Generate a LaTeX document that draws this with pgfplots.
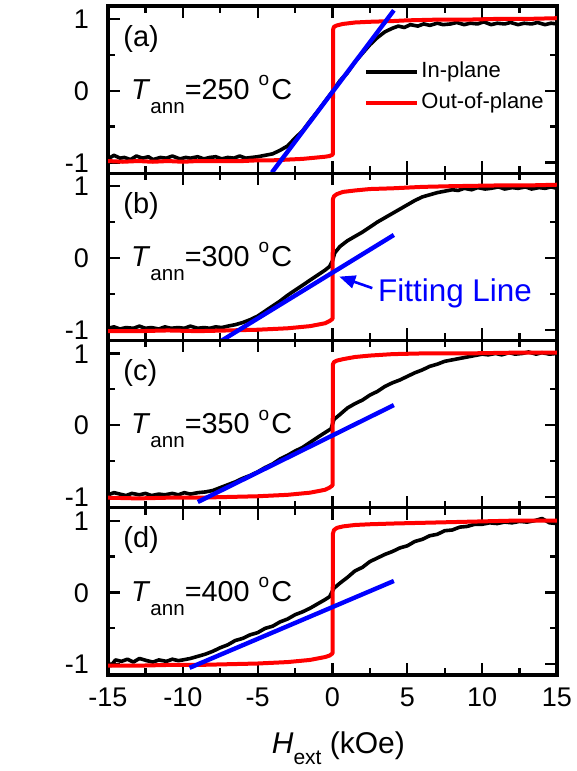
\documentclass[border=0pt]{standalone}
\usepackage{fontspec}
\setmainfont{Liberation Sans}
\usepackage{pgfplots}
\pgfplotsset{compat=1.18}
\usetikzlibrary{arrows.meta}

\pgfplotsset{
  panel/.style={
    scale only axis, width=224.5pt, height=83.625pt,
    anchor=south west,
    xmin=-15, xmax=15, ymin=-1.15, ymax=1.18,
    xtick={-15,-10,...,15}, minor xtick={-12.5,-7.5,...,12.5},
    ytick={-1,0,1}, minor ytick={-0.5,0.5},
    tick align=inside,
    major tick length=6pt, minor tick length=3.5pt,
    every tick/.style={black, line width=1.1pt},
    axis line style={line width=1.6pt},
    tick label style={font=\fontsize{13.5}{14}\selectfont},
    /pgf/number format/assume math mode=true,
    xticklabel style={yshift=-3pt},
    yticklabel style={xshift=-6pt, inner ysep=0pt, text height=9.6pt, text depth=0pt},
  },
  inplane/.style={black, line width=1.8pt, line join=round},
  outplane/.style={red, line width=2pt, line join=round},
  fitline/.style={blue, line width=2.2pt, forget plot},
}
\newcommand{\panellabel}[1]{\node[anchor=base west, inner sep=0pt, font=\fontsize{14.5}{16}\selectfont] at (axis cs:-14.0,0.62) {(#1)};}
\newcommand{\tann}[1]{\node[anchor=base west, inner sep=0pt, font=\fontsize{14.4}{16}\selectfont] at (axis cs:-13.48,-0.12)
  {\textit{T}\raisebox{-7pt}{\fontsize{10.3}{11}\selectfont ann}=#1\hspace{4.5pt}\raisebox{6.8pt}{\fontsize{9.5}{10}\selectfont o}\hspace{1pt}C};}

\begin{document}
\begin{tikzpicture}
\useasboundingbox (0,0) rectangle (288.5pt,385.5pt);

% (a) 250 C
\begin{axis}[panel, at={(54pt,298.875pt)}, xticklabels={},
  legend style={at={(axis cs:2.08,0.045)}, anchor=west, draw=none, fill=none,
    inner sep=0pt, font=\fontsize{11}{12}\selectfont, row sep=5.15pt,
    nodes={inner xsep=1.2pt, inner ysep=0pt, text height=8pt, text depth=2.5pt}},
  legend cell align=left,
  legend image code/.code={\draw[#1] (0pt,0pt) -- (25.5pt,0pt);},
]
\addplot[inplane] coordinates {
(-15,-0.95) (-14.6,-0.90) (-14.2,-0.94) (-13.9,-0.93) (-13.5,-0.96) (-13.1,-0.91) (-12.7,-0.94)
(-12.3,-0.92) (-12,-0.96) (-11.5,-0.93) (-11.1,-0.94) (-10.7,-0.91) (-10.2,-0.95) (-9.8,-0.93)
(-9.5,-0.94) (-9,-0.92) (-8.6,-0.95) (-8.2,-0.93) (-7.8,-0.92) (-7.4,-0.95) (-7,-0.93)
(-6.6,-0.94) (-6.2,-0.91) (-5.8,-0.94) (-5.4,-0.93) (-5,-0.92) (-4.5,-0.90) (-4,-0.88)
(-3.5,-0.83) (-3,-0.77) (-2.5,-0.66) (-2,-0.56) (-1.5,-0.42) (-1,-0.29) (-0.5,-0.15)
(0,-0.01) (0.5,0.14) (1,0.25) (1.5,0.40) (2,0.52) (2.5,0.64) (3,0.74) (3.5,0.82)
(4,0.87) (4.4,0.90) (4.8,0.88) (5.2,0.92) (5.7,0.90) (6.1,0.93) (6.5,0.91) (7,0.94)
(7.4,0.92) (7.9,0.93) (8.3,0.95) (8.8,0.92) (9.2,0.94) (9.7,0.93) (10.1,0.96) (10.6,0.92)
(11,0.94) (11.5,0.93) (11.9,0.95) (12.4,0.92) (12.8,0.94) (13.3,0.93) (13.7,0.95) (14.2,0.92)
(14.6,0.94) (15,0.93)
};
\addlegendentry{In-plane}
\addplot[outplane] coordinates {
(-15,-0.98) (-14,-0.99) (-13,-0.98) (-12,-0.99) (-11,-0.98) (-10,-0.99) (-9,-0.98)
(-8,-0.98) (-7,-0.98) (-6,-0.98) (-5,-0.97) (-4,-0.97) (-3,-0.96) (-2,-0.95)
(-1.5,-0.94) (-1,-0.93) (-0.5,-0.92) (-0.2,-0.91) (0.02,-0.89) (0.05,0.86) (0.1,0.89)
(0.3,0.91) (0.7,0.93) (1.5,0.95) (2.5,0.96) (4,0.97) (5,0.98) (7,0.99) (9,0.99)
(11,1.0) (13,1.0) (15,1.01)
};
\addlegendentry{Out-of-plane}
\addplot[fitline] coordinates {(-4.05,-1.14) (4.1,1.12)};
\panellabel{a}
\tann{250}
\end{axis}

% (b) 300 C
\begin{axis}[panel, at={(54pt,215.25pt)}, xticklabels={}]
\addplot[inplane] coordinates {
(-15,-0.98) (-14.6,-0.96) (-14.2,-0.99) (-13.8,-0.97) (-13.3,-0.98) (-12.9,-0.95) (-12.5,-0.98)
(-12.1,-0.97) (-11.6,-0.99) (-11.2,-0.96) (-10.8,-0.98) (-10.3,-0.97) (-9.9,-0.98) (-9.5,-0.95)
(-9,-0.98) (-8.6,-0.97) (-8.2,-0.98) (-7.8,-0.96) (-7.4,-0.97) (-7,-0.95) (-6.5,-0.93)
(-6,-0.90) (-5.5,-0.86) (-5,-0.81) (-4.5,-0.74) (-4,-0.67) (-3.5,-0.60) (-3,-0.52)
(-2.5,-0.45) (-2,-0.38) (-1.5,-0.31) (-1,-0.24) (-0.5,-0.17) (-0.2,-0.12) (0,-0.04)
(0.15,0.07) (0.5,0.16) (1,0.24) (1.5,0.30) (2,0.36) (2.5,0.43) (3,0.50) (3.5,0.56)
(4,0.62) (4.5,0.68) (5,0.74) (5.5,0.80) (6,0.85) (6.5,0.88) (7,0.91) (7.5,0.93)
(8,0.95) (8.4,0.94) (8.8,0.97) (9.3,0.95) (9.7,0.98) (10.2,0.96) (10.6,0.97) (11.1,0.99)
(11.5,0.96) (12,0.98) (12.4,0.97) (12.9,0.99) (13.3,0.96) (13.8,0.98) (14.2,0.97) (14.6,0.99)
(15,0.97)
};
\addplot[outplane] coordinates {
(-15,-1.02) (-13,-1.02) (-11,-1.01) (-9,-1.02) (-7,-1.01) (-5,-1.0) (-4,-0.99)
(-3,-0.98) (-2,-0.96) (-1.5,-0.95) (-1,-0.93) (-0.5,-0.91) (-0.2,-0.88) (0,-0.85)
(0.03,0.82) (0.1,0.86) (0.3,0.89) (0.7,0.92) (1.5,0.94) (2.5,0.96) (4,0.97) (6,0.99)
(8,1.0) (11,1.01) (13,1.01) (15,1.02)
};
\addplot[fitline] coordinates {(-7.55,-1.17) (4.1,0.32)};
\panellabel{b}
\tann{300}
\draw[blue, line width=1.3pt, -{Triangle[length=8pt,width=6.5pt]}]
  (axis cs:2.66,-0.42) -- (axis cs:0.455,-0.26);
\node[anchor=base west, inner sep=0pt, blue, font=\fontsize{15.7}{17}\selectfont]
  at (axis cs:3.03,-0.61) {Fitting Line};
\node[rotate=90, anchor=base, inner sep=0pt, font=\fontsize{15}{16}\selectfont]
  at (axis description cs:-0.158,0.048) {\textit{M}/\textit{M}\raisebox{-5pt}{\fontsize{10.5}{11}\selectfont s}};
\end{axis}

% (c) 350 C
\begin{axis}[panel, at={(54pt,131.625pt)}, xticklabels={}]
\addplot[inplane] coordinates {
(-15,-0.97) (-14.6,-0.94) (-14.2,-0.96) (-13.8,-0.98) (-13.4,-0.95) (-12.9,-0.97) (-12.5,-0.95)
(-12.1,-0.98) (-11.6,-0.96) (-11.2,-0.97) (-10.7,-0.95) (-10.3,-0.97) (-9.9,-0.94) (-9.5,-0.96)
(-9,-0.94) (-8.5,-0.93) (-8,-0.91) (-7.5,-0.87) (-7,-0.83) (-6.5,-0.79) (-6,-0.74)
(-5.5,-0.70) (-5,-0.65) (-4.5,-0.59) (-4,-0.54) (-3.5,-0.47) (-3,-0.42) (-2.5,-0.36)
(-2,-0.31) (-1.5,-0.24) (-1,-0.17) (-0.7,-0.13) (-0.4,-0.09) (-0.1,-0.05) (0.1,0.08)
(0.5,0.15) (1,0.24) (1.5,0.30) (2,0.35) (2.5,0.42) (3,0.47) (3.5,0.54) (4,0.59)
(4.5,0.63) (5,0.68) (5.5,0.73) (6,0.77) (6.5,0.82) (7,0.85) (7.5,0.89) (8,0.91)
(8.5,0.93) (9,0.95) (9.5,0.97) (10,0.99) (10.4,0.98) (10.9,1.00) (11.3,0.98) (11.8,1.01)
(12.2,0.99) (12.7,1.00) (13.1,1.02) (13.6,0.99) (14,1.01) (14.5,0.99) (15,1.0)
};
\addplot[outplane] coordinates {
(-15,-1.01) (-13,-1.02) (-11,-1.01) (-9,-1.01) (-7,-1.0) (-5,-0.99) (-4,-0.98)
(-3,-0.97) (-2,-0.95) (-1.5,-0.94) (-1,-0.92) (-0.5,-0.9) (-0.2,-0.87) (0,-0.84)
(0.03,0.85) (0.1,0.88) (0.3,0.9) (0.7,0.92) (1.5,0.95) (2.5,0.97) (4,0.99) (6,1.0)
(9,1.0) (12,1.01) (15,1.01)
};
\addplot[fitline] coordinates {(-9.0,-1.07) (4.1,0.28)};
\panellabel{c}
\tann{350}
\end{axis}

% (d) 400 C
\begin{axis}[panel, at={(54pt,48pt)},
  xlabel={\textit{H}\raisebox{-5.3pt}{\fontsize{10.5}{11}\selectfont ext} (kOe)},
  xlabel style={at={(axis description cs:0.513,-0.47)}, anchor=base, inner sep=0pt,
    font=\fontsize{15}{16}\selectfont},
]
\addplot[inplane] coordinates {
(-15,-0.97) (-14.8,-1.02) (-14.5,-0.94) (-14.1,-0.96) (-13.7,-0.93) (-13.3,-0.97) (-12.9,-0.92)
(-12.4,-0.95) (-12,-0.97) (-11.6,-0.94) (-11.1,-0.96) (-10.7,-0.93) (-10.3,-0.95) (-10,-0.94)
(-9.5,-0.92) (-9,-0.89) (-8.5,-0.86) (-8,-0.82) (-7.5,-0.77) (-7,-0.73) (-6.5,-0.67)
(-6,-0.64) (-5.5,-0.59) (-5,-0.56) (-4.5,-0.50) (-4,-0.47) (-3.5,-0.41) (-3,-0.37)
(-2.5,-0.31) (-2,-0.27) (-1.5,-0.22) (-1,-0.16) (-0.5,-0.10) (-0.2,-0.06) (0.1,0.06)
(0.5,0.13) (1,0.21) (1.5,0.30) (2,0.35) (2.5,0.43) (3,0.48) (3.5,0.53) (4,0.57)
(4.5,0.62) (5,0.65) (5.5,0.71) (6,0.74) (6.5,0.79) (7,0.81) (7.5,0.86) (8,0.87)
(8.5,0.91) (9,0.92) (9.5,0.95) (10,0.95) (10.5,0.97) (11,0.96) (11.5,0.98) (12,0.97)
(12.5,0.99) (13,0.98) (13.5,1.0) (14,1.03) (14.5,0.97) (15,0.96)
};
\addplot[outplane] coordinates {
(-15,-1.02) (-13,-1.02) (-11,-1.01) (-9,-1.01) (-7,-1.0) (-5,-0.99) (-4,-0.98)
(-3,-0.97) (-2,-0.95) (-1.5,-0.94) (-1,-0.92) (-0.5,-0.9) (-0.2,-0.88) (0,-0.85)
(0.03,0.82) (0.1,0.87) (0.3,0.9) (0.7,0.92) (1.5,0.94) (2.5,0.95) (4,0.96) (6,0.97)
(8,0.98) (10,0.99) (12,1.0) (15,1.0)
};
\addplot[fitline] coordinates {(-9.55,-1.05) (4.1,0.16)};
\panellabel{d}
\tann{400}
\end{axis}
\end{tikzpicture}
\end{document}
